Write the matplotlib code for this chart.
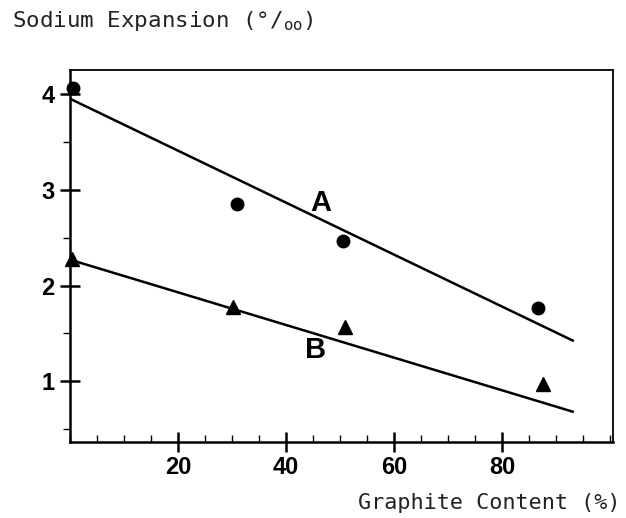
import matplotlib
matplotlib.use("Agg")
import matplotlib.pyplot as plt
from matplotlib.ticker import MultipleLocator

plt.rcParams["mathtext.fontset"] = "dejavusans"

# data
graphite_a = [0.6, 31, 50.6, 86.6]
expansion_a = [4.06, 2.85, 2.46, 1.77]
graphite_b = [0.3, 30.2, 51.0, 87.5]
expansion_b = [2.28, 1.78, 1.57, 0.97]

# fitted lines (end points)
fit_x = [0, 93.3]
fit_a = [3.95, 1.42]
fit_b = [2.27, 0.68]

x_ticks = [20, 40, 60, 80]
y_ticks = [1, 2, 3, 4]

fig = plt.figure(figsize=(6.26, 5.18), dpi=100)
ax = fig.add_axes([0.1118, 0.1473, 0.867, 0.7176])

ax.plot(fit_x, fit_a, color="black", lw=1.8, solid_capstyle="butt")
ax.plot(fit_x, fit_b, color="black", lw=1.8, solid_capstyle="butt")
ax.plot(graphite_a, expansion_a, "o", color="black", ms=9, clip_on=False)
ax.plot(graphite_b, expansion_b, "^", color="black", ms=10, clip_on=False)

label_font = ["Liberation Sans Narrow", "Liberation Sans", "DejaVu Sans"]
ax.text(46.5, 2.86, "A", fontsize=21, fontweight="bold", family=label_font,
        ha="center", va="center")
ax.text(45.4, 1.33, "B", fontsize=21, fontweight="bold", family=label_font,
        ha="center", va="center")

ax.set_xlim(0, 100.5)
ax.set_ylim(0.37, 4.25)

ax.set_xticks(x_ticks)
ax.set_yticks(y_ticks)
ax.xaxis.set_minor_locator(MultipleLocator(5))
ax.yaxis.set_minor_locator(MultipleLocator(0.5))
ax.tick_params(axis="both", which="major", direction="inout", length=14,
               width=1.8, labelsize=17)
ax.tick_params(axis="x", which="major", pad=3)
ax.tick_params(axis="y", which="major", pad=4)
ax.tick_params(axis="x", which="minor", direction="in", length=5, width=1.0)
ax.tick_params(axis="y", which="minor", direction="out", length=5, width=1.0)
for lab in ax.get_xticklabels() + ax.get_yticklabels():
    lab.set_fontweight("bold")
    lab.set_family(["Liberation Sans", "DejaVu Sans"])

ax.spines["left"].set_linewidth(1.8)
ax.spines["bottom"].set_linewidth(1.8)
ax.spines["top"].set_linewidth(1.3)
ax.spines["right"].set_linewidth(1.3)

mono = ["DejaVu Sans Mono", "DejaVu Sans"]
fig.text(12 / 626, 1 - 21 / 518, r"Sodium Expansion (°/$_{\mathtt{oo}}$)", family=mono,
         fontsize=16.2, color="#222222", ha="left", va="center")
fig.text(620 / 626, 1 - 503 / 518, "Graphite Content (%)", family=mono,
         fontsize=15.7, color="#222222", ha="right", va="center")

fig.savefig("out.png", dpi=100)
